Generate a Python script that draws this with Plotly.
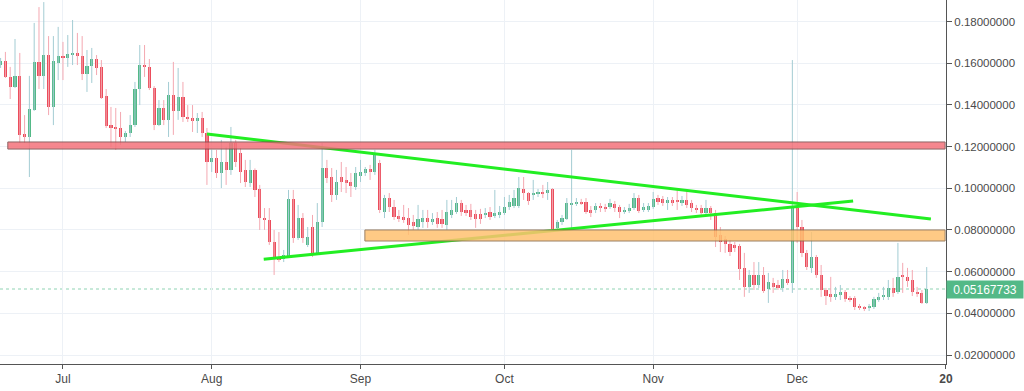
import plotly.graph_objects as go
import pandas as pd

# ---------------- data (daily candles, 2018-06-18 .. 2018-12-28) ----------------
dates = pd.date_range("2018-06-18", "2018-12-28", freq="D")

opens = [
    # Jun 18-30
    .1591, .1610, .1534, .1486, .1539, .1260, .1246, .1375, .1606, .1539, .1639, .1390, .1601,
    # Jul
    .1634, .1625, .1644, .1649, .1634, .1548, .1586, .1620, .1582, .1443, .1303, .1294, .1289, .1246, .1265, .1303,
    .1476, .1591, .1582, .1481, .1303, .1385, .1328, .1447, .1371, .1438, .1342, .1337, .1323, .1337, .1265,
    # Aug
    .1126, .1145, .1073, .1126, .1088, .1217, .1169, .1088, .1025, .1088, .0997, .0857, .0848, .0742, .0670, .0661,
    .0670, .0949, .0762, .0857, .0728, .0814, .0690, .0838, .1097, .1054, .0968, .1054, .1040, .1030, .1006,
    # Sep
    .1059, .1073, .1093, .1078, .1121, .0886, .0953, .0910, .0867, .0862, .0857, .0838, .0814, .0838, .0857,
    .0838, .0857, .0853, .0824, .0872, .0886, .0929, .0896, .0896, .0877, .0877, .0872, .0886, .0867, .0872,
    # Oct
    .0881, .0910, .0915, .0915, .0997, .0977, .0968, .0973, .0982, .0977, .0997, .0810, .0838, .0853, .0920, .0925,
    .0934, .0934, .0896, .0896, .0915, .0910, .0910, .0925, .0910, .0886, .0891, .0905, .0953, .0896, .0896,
    # Nov
    .0910, .0953, .0949, .0929, .0944, .0944, .0929, .0944, .0929, .0905, .0905, .0881, .0905, .0881, .0776,
    .0757, .0733, .0728, .0723, .0618, .0527, .0584, .0536, .0584, .0517, .0546, .0536, .0522, .0565, .0546,
    # Dec 1-28
    .0905, .0814, .0690, .0618, .0670, .0584, .0512, .0493, .0479, .0488, .0503, .0474, .0474, .0435,
    .0426, .0426, .0431, .0464, .0479, .0479, .0522, .0503, .0579, .0575, .0560, .0503, .0498, .0450,
]
highs = [
    .1625, .1654, .1582, .1716, .1649, .1351, .1539, .1793, .1869, .1893, .1730, .1730, .1774,
    .1702, .1735, .1807, .1745, .1730, .1663, .1673, .1639, .1615, .1476, .1390, .1385, .1366, .1275, .1351, .1510,
    .1687, .1687, .1620, .1490, .1423, .1423, .1510, .1606, .1577, .1510, .1399, .1399, .1361, .1366, .1289,
    .1184, .1184, .1232, .1198, .1294, .1232, .1193, .1136, .1136, .1095, .1016, .0905, .0905, .0800, .0790, .0704,
    .0992, .0992, .0920, .0881, .0814, .0872, .0929, .1217, .1136, .1097, .1088, .1126, .1102, .1073, .1102,
    .1136, .1102, .1112, .1184, .1136, .0968, .0977, .0944, .0896, .0920, .0905, .0872, .0920, .0896, .0896,
    .0881, .0886, .0896, .0944, .0944, .0958, .0944, .0920, .0925, .0896, .0901, .0905, .0910, .0992, .0915,
    .0958, .0968, .0992, .1054, .1054, .0982, .1040, .0997, .1016, .1030, .1001, .0848, .0872, .0953, .1184, .0953,
    .0949, .0953, .0915, .0929, .0929, .0925, .0949, .0939, .0920, .0910, .0925, .0977, .0968, .0929, .0929,
    .0982, .0968, .0963, .0958, .0958, .0997, .0963, .0992, .0944, .0920, .0920, .0944, .0915, .0896, .0814,
    .0771, .0752, .0742, .0733, .0690, .0608, .0646, .0646, .0622, .0594, .0570, .0560, .0608, .0608, .1615,
    .0982, .0848, .0704, .0790, .0680, .0632, .0522, .0575, .0527, .0536, .0512, .0483, .0483, .0445,
    .0435, .0445, .0479, .0498, .0527, .0560, .0570, .0738, .0642, .0618, .0608, .0527, .0512, .0622,
]
lows = [
    .1577, .1529, .1428, .1481, .1217, .1217, .1054, .1371, .1476, .1476, .1351, .1303, .1519,
    .1519, .1582, .1591, .1591, .1519, .1462, .1505, .1543, .1428, .1289, .1198, .1184, .1208, .1222, .1246, .1294,
    .1399, .1534, .1471, .1279, .1298, .1303, .1246, .1256, .1328, .1318, .1318, .1270, .1265, .1246, .1016,
    .1078, .1049, .1001, .1016, .1064, .1102, .1025, .1006, .1006, .0958, .0800, .0800, .0728, .0584, .0646, .0646,
    .0670, .0738, .0752, .0738, .0718, .0670, .0680, .0814, .1025, .0934, .0944, .0982, .0977, .0958, .0992,
    .1030, .1059, .1040, .1064, .0881, .0857, .0886, .0848, .0838, .0834, .0776, .0800, .0800, .0810, .0810,
    .0824, .0810, .0810, .0800, .0857, .0877, .0867, .0867, .0848, .0810, .0829, .0857, .0848, .0857, .0857,
    .0872, .0896, .0905, .0905, .0944, .0920, .0944, .0958, .0953, .0944, .0800, .0800, .0824, .0848, .0800, .0915,
    .0920, .0877, .0862, .0881, .0886, .0886, .0901, .0886, .0857, .0877, .0881, .0896, .0881, .0886, .0886,
    .0901, .0920, .0915, .0896, .0915, .0896, .0915, .0905, .0886, .0881, .0872, .0872, .0848, .0718, .0694,
    .0690, .0675, .0694, .0560, .0479, .0498, .0512, .0522, .0498, .0450, .0498, .0512, .0503, .0536, .0498,
    .0738, .0670, .0608, .0594, .0570, .0479, .0440, .0455, .0464, .0464, .0455, .0455, .0416, .0416,
    .0411, .0411, .0421, .0455, .0464, .0464, .0479, .0493, .0498, .0527, .0483, .0479, .0445, .0445,
]
closes = [
    .1610, .1534, .1486, .1539, .1256, .1246, .1380, .1606, .1539, .1639, .1390, .1610, .1634,
    .1625, .1644, .1646, .1634, .1548, .1586, .1620, .1577, .1433, .1299, .1289, .1284, .1246, .1265, .1303, .1476,
    .1591, .1586, .1481, .1303, .1385, .1328, .1447, .1371, .1438, .1342, .1332, .1323, .1337, .1265, .1126,
    .1145, .1073, .1126, .1088, .1217, .1126, .1078, .1030, .1088, .0992, .0857, .0848, .0742, .0670, .0656, .0680,
    .0949, .0762, .0857, .0762, .0766, .0690, .0838, .1097, .1049, .0968, .1030, .1030, .1025, .1011, .1073,
    .1078, .1093, .1078, .1169, .0896, .0953, .0910, .0862, .0853, .0848, .0824, .0819, .0853, .0857, .0838,
    .0853, .0829, .0829, .0886, .0896, .0929, .0886, .0881, .0862, .0853, .0853, .0881, .0862, .0881, .0886,
    .0910, .0934, .0953, .1001, .0977, .0939, .0977, .0982, .0973, .0992, .0805, .0838, .0857, .0929, .0929, .0934,
    .0929, .0886, .0881, .0915, .0905, .0901, .0929, .0905, .0886, .0896, .0905, .0953, .0891, .0910, .0915,
    .0949, .0934, .0929, .0944, .0929, .0934, .0944, .0920, .0905, .0896, .0881, .0905, .0881, .0766, .0742,
    .0733, .0694, .0713, .0613, .0527, .0584, .0536, .0584, .0507, .0551, .0527, .0522, .0565, .0546, .0905,
    .0814, .0690, .0622, .0670, .0584, .0512, .0483, .0479, .0493, .0503, .0469, .0464, .0431, .0426,
    .0421, .0435, .0469, .0479, .0488, .0522, .0498, .0575, .0575, .0555, .0503, .0493, .0450, .05167733,
]

last_price = 0.05167733
y_ticks = [0.02, 0.04, 0.06, 0.08, 0.10, 0.12, 0.14, 0.16, 0.18]
month_ticks = ["2018-07-01", "2018-08-01", "2018-09-01", "2018-10-01", "2018-11-01", "2018-12-01", "2019-01-01"]
month_labels = ["Jul", "Aug", "Sep", "Oct", "Nov", "Dec", "<b>20</b>"]

# drawn levels / trend lines
resistance_zone = (0.1188, 0.1222, "2018-06-19 12:00", "2018-12-31 20:00")
support_zone = (0.0747, 0.0800, "2018-09-01 22:00", "2018-12-31 20:00")
upper_trend_x = ["2018-07-31 00:00", "2018-12-28 21:00"]
upper_trend_y = [0.1260, 0.0852]
lower_trend_x = ["2018-08-11 20:00", "2018-12-12 16:00"]
lower_trend_y = [0.0660, 0.0939]

# ---------------- styling ----------------
UP, DOWN = "#53b987", "#eb4d5c"
UP_WICK, DOWN_WICK = "#a3ccd3", "#f4a8b1"
GRID = "#edf1f6"
AXIS = "#555555"
TXT = "#4a4a4a"
FONT = "Liberation Sans, Arial, sans-serif"

fig = go.Figure()

is_up = [c >= o for o, c in zip(opens, closes)]


def wicks(flag):
    xs, ys = [], []
    for d, h, l, u in zip(dates, highs, lows, is_up):
        if u == flag:
            xs += [d, d, None]
            ys += [l, h, None]
    return xs, ys


for flag, col in ((True, UP_WICK), (False, DOWN_WICK)):
    wx, wy = wicks(flag)
    fig.add_trace(go.Scatter(x=wx, y=wy, mode="lines", line=dict(color=col, width=1),
                             hoverinfo="skip", showlegend=False))

min_body = 0.0005
for flag, col in ((True, UP), (False, DOWN)):
    bx, bb, bh = [], [], []
    for d, o, c, u in zip(dates, opens, closes, is_up):
        if u == flag:
            lo, hi = min(o, c), max(o, c)
            h = max(hi - lo, min_body)
            bx.append(d)
            bb.append((lo + hi) / 2 - h / 2)
            bh.append(h)
    fig.add_trace(go.Bar(x=bx, y=bh, base=bb, width=0.66 * 86400000,
                         marker=dict(color=col, line=dict(width=0)), showlegend=False))

# trend lines
for tx, ty in ((upper_trend_x, upper_trend_y), (lower_trend_x, lower_trend_y)):
    fig.add_trace(go.Scatter(x=tx, y=ty, mode="lines", line=dict(color="#22ee22", width=3),
                             showlegend=False, hoverinfo="skip"))

shapes = []
# last price dotted line
shapes.append(dict(type="line", xref="paper", x0=0, x1=1, yref="y", y0=last_price, y1=last_price,
                   line=dict(color="#8fd3b3", width=1, dash="dot"), layer="below"))
# zones
r0, r1, rx0, rx1 = resistance_zone
shapes.append(dict(type="rect", xref="x", yref="y", x0=rx0, x1=rx1, y0=r0, y1=r1,
                   fillcolor="#f5737b", opacity=0.85, line=dict(color="#7a4a4a", width=1), layer="above"))
s0, s1, sx0, sx1 = support_zone
shapes.append(dict(type="rect", xref="x", yref="y", x0=sx0, x1=sx1, y0=s0, y1=s1,
                   fillcolor="#ffc170", opacity=0.85, line=dict(color="#8a6a4a", width=1), layer="above"))

fig.update_layout(
    width=1024, height=391,
    margin=dict(l=0, r=78, t=0, b=27),
    plot_bgcolor="white", paper_bgcolor="white",
    barmode="overlay", bargap=0,
    showlegend=False,
    font=dict(family=FONT, size=12, color=TXT),
    shapes=shapes,
    xaxis=dict(
        type="date", range=["2018-06-17 21:00", "2019-01-01 00:30"],
        tickvals=month_ticks, ticktext=month_labels,
        showgrid=True, gridcolor=GRID, gridwidth=1,
        showline=True, linecolor=AXIS, linewidth=1,
        ticks="outside", ticklen=4, tickcolor=AXIS,
        tickfont=dict(size=12, color=TXT), zeroline=False, fixedrange=True,
    ),
    yaxis=dict(
        side="right", range=[0.0157, 0.1903],
        tickvals=y_ticks, tickformat=".8f",
        showgrid=True, gridcolor=GRID, gridwidth=1,
        showline=True, linecolor=AXIS, linewidth=1,
        ticks="outside", ticklen=5, tickcolor=AXIS,
        tickfont=dict(size=11.5, color=TXT), zeroline=False,
    ),
    annotations=[dict(
        xref="paper", x=1, xanchor="left", yref="y", y=last_price, yanchor="middle",
        text=f"{last_price:.8f}", showarrow=False,
        font=dict(color="white", size=12, family=FONT),
        bgcolor=UP, width=74, height=15, borderpad=1, align="center",
    )],
)

fig.write_html(
    "out.html",
    config={"displayModeBar": False},
    post_script="document.body.style.margin='0';document.body.style.overflow='hidden';",
)
